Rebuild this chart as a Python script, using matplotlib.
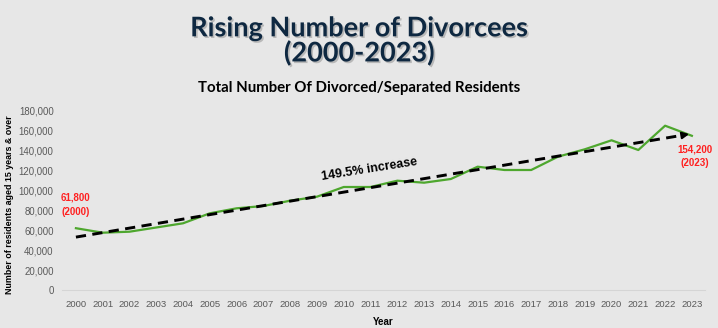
import numpy as np
import matplotlib
matplotlib.use("Agg")
import matplotlib.pyplot as plt
import matplotlib.patheffects as pe

years = list(range(2000, 2024))
residents = [61800, 57300, 58300, 62500, 66700, 76700, 81700, 84000, 89300, 93300,
             103000, 103000, 109300, 107300, 111000, 123300, 120000, 120000, 133300,
             140700, 149700, 140000, 164300, 154200]
yticks = list(range(0, 180001, 20000))

title = "Rising Number of Divorcees\n(2000-2023)"
subtitle = "Total Number Of Divorced/Separated Residents"
ylabel = "Number of residents aged 15 years & over"
xlabel = "Year"
increase_label = "149.5% increase"
start_label = "61,800\n(2000)"
end_label = "154,200\n(2023)"

bg = "#E7E7E7"
green = "#4EA72E"
red = "#FF2020"
navy = "#0E2841"

fig = plt.figure(figsize=(7.18, 3.28), dpi=100, facecolor=bg)
ax = fig.add_axes([62/718, (328-290)/328, (705-62)/718, 180/328])
ax.set_facecolor(bg)

ax.plot(years, residents, color=green, lw=1.6, zorder=3)

# linear trendline
coef = np.polyfit(years, residents, 1)
x0, x1 = years[0], years[-1]
tx = np.array([x0, x1 - 0.25])
ax.plot(tx, np.polyval(coef, tx), color="black", lw=2.1, ls=(0, (3.5, 2.2)), zorder=4)
ax.annotate("", xy=(x1, np.polyval(coef, x1)), xytext=(x1 - 0.35, np.polyval(coef, x1 - 0.35)),
            arrowprops=dict(arrowstyle="-|>", color="black", lw=1.5, mutation_scale=10), zorder=5)

ax.set_xlim(1999.48, 2023.49)
ax.set_ylim(0, 180000)
ax.set_xticks(years)
ax.set_xticklabels([str(y) for y in years], fontsize=6.8, color="#595959", family="Liberation Sans")
ax.set_yticks(yticks)
ax.set_yticklabels([f"{v:,}" for v in yticks], fontsize=6.9, color="#595959", family="Liberation Sans")
ax.tick_params(length=0, pad=7)
ax.tick_params(axis="y", pad=6)
for s in ["top", "right", "left"]:
    ax.spines[s].set_visible(False)
ax.spines["bottom"].set_color("#D5D5D5")
ax.spines["bottom"].set_linewidth(0.8)

ax.set_xlabel(xlabel, fontsize=7, fontweight="bold", family="Liberation Sans", labelpad=6)
fig.text(10/718, 1 - 205/328, ylabel, rotation=90, ha="center", va="center",
         fontsize=6.4, fontweight="bold", family="Liberation Sans")

ax.text(2009.15, 110500, increase_label, rotation=9, ha="left", va="baseline",
        fontsize=9, fontweight="bold", family="Liberation Sans", color="black")

ax.text(2000, 85000, start_label, ha="center", va="center", fontsize=7,
        fontweight="bold", family="Liberation Sans", color=red, linespacing=1.5)
ax.text(2023.1, 134000, end_label, ha="center", va="center", fontsize=7,
        fontweight="bold", family="Liberation Sans", color=red, linespacing=1.5)

fig.text(0.5, 1 - 41/328, title, ha="center", va="center", fontsize=19.5,
         fontweight="bold", family="Lato", color=navy, linespacing=1.0,
         path_effects=[pe.withSimplePatchShadow(offset=(1.2, -1.2), shadow_rgbFace="#999999", alpha=0.6)])
fig.text(0.5, 1 - 88/328, subtitle, ha="center", va="center", fontsize=10.8,
         fontweight="bold", family="Lato", color="black")

fig.savefig("out.png", dpi=100, facecolor=bg)
